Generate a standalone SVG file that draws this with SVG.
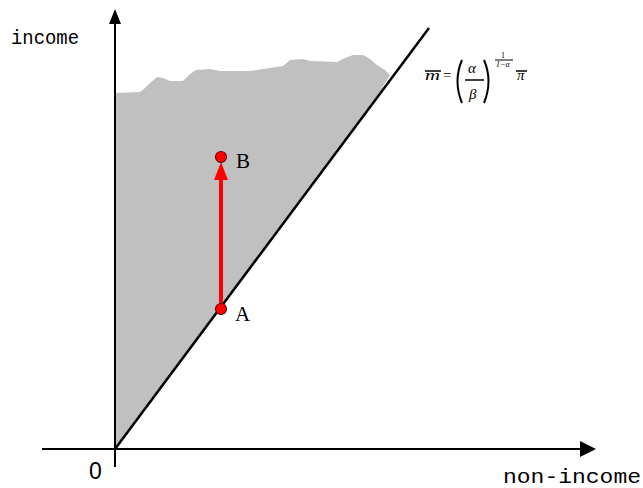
<svg xmlns="http://www.w3.org/2000/svg" width="643" height="488" viewBox="0 0 643 488">
<style>
.ax{stroke:#000;stroke-width:2;fill:none}
.lbl{font-family:"Liberation Mono",monospace;font-size:20px;fill:#000}
.ser{font-family:"Liberation Serif",serif;fill:#000}
.mth{font-family:"Liberation Serif",serif;font-style:italic;fill:#000}
.ol{stroke:#000;stroke-width:1.5}
.par{stroke:#000;stroke-width:2;fill:none}
</style>
<rect width="643" height="488" fill="#fff"/>
<g id="region">
<path d="M115,93 L140,92 L145,88 L150,83 L157,77 L163,78 L170,81 L183,81 L190,74 L196,70 L210,69 L220,71 L250,71 L263,69 L283,66 L290,60 L303,59 L310,61 L337,62 L345,58 L353,55 L363,55 L370,59 L377,65 L385,70 L390,75 L375,100 L362,118 L115,449 Z" fill="#c0c0c0"/>
</g>
<g id="connectors">
<line class="ax" x1="115" y1="467" x2="115" y2="22"/>
<path d="M115,9 L109,24 L121,24 Z" fill="#000"/>
<line class="ax" x1="42" y1="449" x2="582" y2="449"/>
<path d="M596,449 L580,441 L580,457 Z" fill="#000"/>
<line x1="115" y1="449" x2="429" y2="28" stroke="#000" stroke-width="2.5"/>
<line x1="221" y1="308" x2="221" y2="178" stroke="#f00" stroke-width="4"/>
<path d="M221,162 L214,180 L228,180 Z" fill="#f00"/>
</g>
<g id="A">
<circle cx="221" cy="309" r="5.5" fill="#f00" stroke="#600" stroke-width="1.2"/>
<text class="ser" x="235" y="321" font-size="21">A</text>
</g>
<g id="B">
<circle cx="221" cy="157" r="5.5" fill="#f00" stroke="#600" stroke-width="1.2"/>
<text class="ser" x="236" y="168" font-size="21">B</text>
</g>
<g id="labels">
<text class="lbl" x="11" y="44" textLength="68" lengthAdjust="spacingAndGlyphs">income</text>
<text class="lbl" x="503" y="483" textLength="138" lengthAdjust="spacingAndGlyphs">non-income</text>
<text x="89" y="479" font-size="23" font-family="Liberation Sans" fill="#000">0</text>
</g>
<g id="formula">
<text class="mth" x="425" y="80" font-size="15" textLength="15" lengthAdjust="spacingAndGlyphs">m</text>
<line class="ol" x1="425" y1="71" x2="441" y2="71"/>
<text class="ser" x="443" y="80" font-size="15">=</text>
<path class="par" d="M462,60 Q453,81 462,103"/>
<text class="mth" x="468" y="73" font-size="15">α</text>
<line class="ol" x1="465" y1="80" x2="484" y2="80"/>
<text class="mth" x="469" y="99" font-size="15">β</text>
<path class="par" d="M484,60 Q493,81 484,103"/>
<text class="ser" x="501" y="58" font-size="8" fill="#999">1</text>
<line x1="495" y1="60" x2="513" y2="60" stroke="#000" stroke-width="1"/>
<text class="mth" x="496" y="67" font-size="8" fill="#999">1−α</text>
<text class="mth" x="517" y="80" font-size="15">π</text>
<line class="ol" x1="516" y1="71" x2="527" y2="71"/>
</g>
</svg>
